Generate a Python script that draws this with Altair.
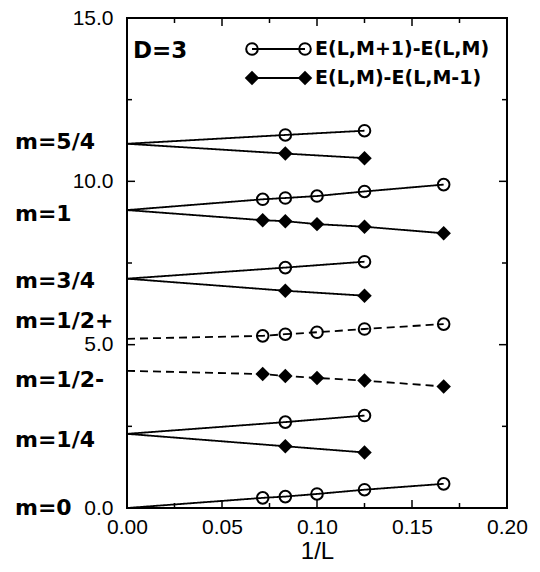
import altair as alt
import pandas as pd

# ---------------- data ----------------
L_all = [14, 12, 10, 8, 6]      # system sizes -> x = 1/L
L_two = [12, 8]

m54_int = 11.15
m54_up = [11.42, 11.55]
m54_dn = [10.85, 10.71]

m1_int = 9.12
m1_up = [9.45, 9.49, 9.55, 9.69, 9.90]
m1_dn = [8.81, 8.78, 8.69, 8.61, 8.41]

m34_int = 7.02
m34_up = [7.36, 7.54]
m34_dn = [6.65, 6.50]

m12p_int = 5.18
m12p_up = [5.27, 5.32, 5.38, 5.48, 5.63]

m12m_int = 4.20
m12m_dn = [4.10, 4.04, 3.98, 3.90, 3.72]

m14_int = 2.27
m14_up = [2.63, 2.83]
m14_dn = [1.89, 1.70]

m0_int = 0.0
m0_up = [0.31, 0.35, 0.43, 0.56, 0.74]

level_labels = ["m=5/4", "m=1", "m=3/4", "m=1/2+", "m=1/2-", "m=1/4", "m=0"]
level_label_y = [11.19, 9.0, 6.95, 5.72, 3.92, 2.09, 0.0]

x_tick_labels = [0.0, 0.05, 0.10, 0.15, 0.20]
x_minor = [0.025, 0.075, 0.125, 0.175]
x_major = [0.05, 0.10, 0.15]
y_tick_labels = [0.0, 5.0, 10.0, 15.0]
y_minor = [2.5, 7.5, 12.5]
y_major = [5.0, 10.0]

legend_up = "E(L,M+1)-E(L,M)"
legend_dn = "E(L,M)-E(L,M-1)"

# ---------------- build table ----------------
series_defs = [
    ("54up", "up", "solid", m54_int, L_two, m54_up),
    ("54dn", "dn", "solid", m54_int, L_two, m54_dn),
    ("1up", "up", "solid", m1_int, L_all, m1_up),
    ("1dn", "dn", "solid", m1_int, L_all, m1_dn),
    ("34up", "up", "solid", m34_int, L_two, m34_up),
    ("34dn", "dn", "solid", m34_int, L_two, m34_dn),
    ("12p", "up", "dashed", m12p_int, L_all, m12p_up),
    ("12m", "dn", "dashed", m12m_int, L_all, m12m_dn),
    ("14up", "up", "solid", m14_int, L_two, m14_up),
    ("14dn", "dn", "solid", m14_int, L_two, m14_dn),
    ("0up", "up", "solid", m0_int, L_all, m0_up),
]
rows = []
for key, ser, style, y0, Ls, vals in series_defs:
    rows.append({"key": key, "series": ser, "style": style, "x": 0.0, "y": y0, "mark": 0})
    for L, v in zip(Ls, vals):
        rows.append({"key": key, "series": ser, "style": style, "x": 1.0 / L, "y": v, "mark": 1})
df = pd.DataFrame(rows)

W, H = 380, 490
FONT = "Liberation Sans"
BOLD = "DejaVu Sans"

xscale = alt.Scale(domain=[0, 0.2], nice=False, zero=False)
yscale = alt.Scale(domain=[0, 15], nice=False, zero=False)

xaxis = alt.Axis(values=x_tick_labels, format=".2f", labelFontSize=21, labelFont=FONT,
                 labelColor="black", ticks=False, domain=False, grid=False,
                 labelPadding=8, labelFlush=False, labelOverlap=False,
                 title="1/L", titleFontSize=24, titleFont=FONT, titleFontWeight="normal",
                 titleColor="black", titlePadding=2)
yaxis = alt.Axis(values=y_tick_labels, format=".1f", labelFontSize=21, labelFont=FONT,
                 labelColor="black", ticks=False, domain=False, grid=False,
                 labelPadding=14, labelFlush=False, labelOverlap=False, title=None)

base = alt.Chart(df)

lines = base.mark_line(color="black", strokeWidth=1.8).encode(
    x=alt.X("x:Q", scale=xscale, axis=xaxis),
    y=alt.Y("y:Q", scale=yscale, axis=yaxis),
    detail="key:N",
    order="x:Q",
    strokeDash=alt.StrokeDash("style:N",
                              scale=alt.Scale(domain=["solid", "dashed"], range=[[1, 0], [8, 5]]),
                              legend=None),
)

circles = base.transform_filter("datum.mark == 1 && datum.series == 'up'").mark_point(
    shape="circle", size=135, filled=False, color="black", strokeWidth=2, opacity=1
).encode(x="x:Q", y="y:Q")

diamonds = base.transform_filter("datum.mark == 1 && datum.series == 'dn'").mark_point(
    shape="diamond", size=210, filled=True, color="black", opacity=1
).encode(x="x:Q", y="y:Q")

# inward ticks
def xticks(vals, length):
    d = pd.DataFrame({"t": vals})
    bot = alt.Chart(d).mark_rule(color="black", strokeWidth=1.5).encode(
        x="t:Q", y=alt.value(H), y2=alt.value(H - length))
    top = alt.Chart(d).mark_rule(color="black", strokeWidth=1.5).encode(
        x="t:Q", y=alt.value(0), y2=alt.value(length))
    return [bot, top]

def yticks(vals, length):
    d = pd.DataFrame({"t": vals})
    left = alt.Chart(d).mark_rule(color="black", strokeWidth=1.5).encode(
        y="t:Q", x=alt.value(0), x2=alt.value(length))
    right = alt.Chart(d).mark_rule(color="black", strokeWidth=1.5).encode(
        y="t:Q", x=alt.value(W), x2=alt.value(W - length))
    return [left, right]

tick_layers = xticks(x_major, 8) + xticks(x_minor, 5) + yticks(y_major, 8) + yticks(y_minor, 5)

lab_df = pd.DataFrame({"label": level_labels, "ly": level_label_y})
labels = alt.Chart(lab_df).mark_text(align="left", baseline="middle", font=BOLD,
                                     fontWeight="bold", fontSize=22, color="black").encode(
    x=alt.value(-112), y=alt.Y("ly:Q"), text="label:N")

one = pd.DataFrame({"a": [0]})
dtext = alt.Chart(one).mark_text(align="left", baseline="middle", font=BOLD, fontWeight="bold",
                                 fontSize=23, color="black", text="D=3").encode(
    x=alt.value(6), y=alt.value(33))

legend_layers = []
for ry, lab, kind in [(31, legend_up, "up"), (60, legend_dn, "dn")]:
    legend_layers.append(alt.Chart(one).mark_rule(color="black", strokeWidth=1.8).encode(
        x=alt.value(125), x2=alt.value(178), y=alt.value(ry)))
    for px in (125, 178):
        if kind == "up":
            m = alt.Chart(one).mark_point(shape="circle", size=135, filled=False, color="black",
                                          strokeWidth=2, opacity=1)
        else:
            m = alt.Chart(one).mark_point(shape="diamond", size=210, filled=True, color="black",
                                          opacity=1)
        legend_layers.append(m.encode(x=alt.value(px), y=alt.value(ry)))
    legend_layers.append(alt.Chart(one).mark_text(align="left", baseline="middle", font=BOLD,
                                                  fontWeight="bold", fontSize=19, color="black",
                                                  text=lab).encode(
        x=alt.value(188), y=alt.value(ry)))

chart = alt.layer(lines, circles, diamonds, labels, dtext, *tick_layers, *legend_layers).properties(
    width=W, height=H,
    padding={"left": 119, "top": 10, "right": 25, "bottom": 56},
    autosize=alt.AutoSizeParams(type="none"),
    background="white",
).configure_view(stroke="black", strokeWidth=2)

chart.save("out.html", embed_options={"renderer": "svg", "actions": False})
